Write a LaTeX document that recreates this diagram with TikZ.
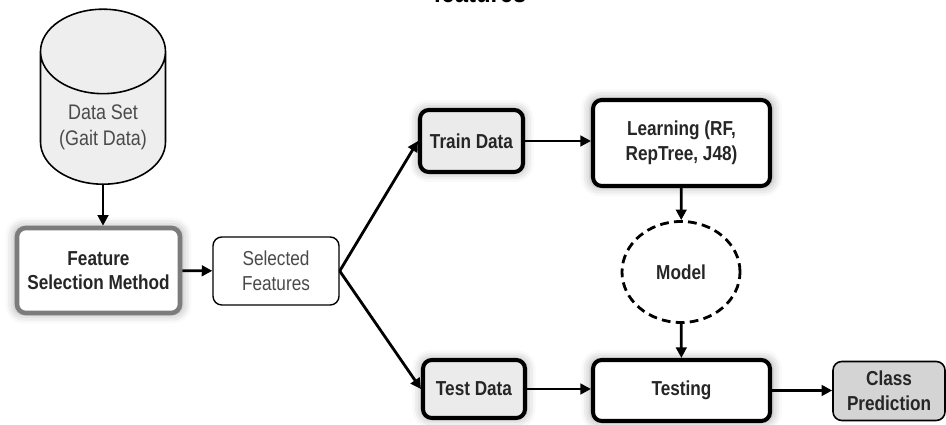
\documentclass[tikz,border=0pt]{standalone}
\usepackage{fontspec}
\setmainfont{Liberation Sans}[FakeStretch=0.85]
\usetikzlibrary{arrows.meta}
\usetikzlibrary{shapes}
\usetikzlibrary{shadows.blur}
\definecolor{hgrau}{HTML}{eeeeee}
\definecolor{mgrau}{HTML}{7c7c7c}
\definecolor{kgrau}{HTML}{d4d4d4}
\definecolor{tgrau}{HTML}{4a4a4a}

\begin{document}
\begin{tikzpicture}[>={Triangle[black,length=6pt,width=6pt]},every edge/.style={draw=black,line width=1.6pt},
        box/.style={draw, rectangle, rounded corners=5pt, align=center, inner sep=0pt, font=\fontsize{11.5}{14}\selectfont},
        dickbox/.style={box, line width=2.3pt, font=\fontsize{11.5}{14}\selectfont\bfseries, text=black!85,
                blur shadow={shadow xshift=0pt, shadow yshift=0pt, shadow blur radius=5pt, shadow opacity=35, shadow scale=1.03}}]
        \clip (0, 0) rectangle (18.92, 8.5);

        \node[font=\fontsize{16}{18}\selectfont\bfseries, anchor=base] (U) at (9.6, 8.45) {features};

        \node[draw, cylinder, shape border rotate=90, aspect=0.85, fill=hgrau, line width=0.9pt, minimum width=2.5cm, minimum height=3.5cm, align=center, text=tgrau, font=\fontsize{12}{14.5}\selectfont, anchor=south] (D) at (2.06, 4.8) {Data Set\\(Gait Data)};

        \node[dickbox, draw=mgrau, line width=2.6pt, fill=white, minimum width=3.26cm, minimum height=1.7cm] (F) at (1.97, 3.09) {Feature\\Selection Method};

        \node[box, line width=0.8pt, fill=white, text=tgrau, minimum width=2.52cm, minimum height=1.36cm] (SE) at (5.52, 3.08) {Selected\\Features};

        \node[dickbox, fill=black!8, minimum width=2.06cm, minimum height=1.24cm] (TR) at (9.43, 5.68) {Train Data};

        \node[dickbox, fill=black!8, minimum width=2.04cm, minimum height=1.16cm] (TE) at (9.48, 0.72) {Test Data};

        \node[dickbox, fill=white, minimum width=3.54cm, minimum height=1.72cm] (LE) at (13.63, 5.64) {Learning (RF,\\RepTree, J48)};

        \node[dickbox, fill=white, minimum width=3.54cm, minimum height=1.22cm] (TS) at (13.63, 0.69) {Testing};

        \node[draw, ellipse, dash pattern=on 5pt off 3pt, line width=1.6pt, inner sep=0pt, minimum width=2.36cm, minimum height=2.02cm, font=\fontsize{11.5}{14}\selectfont\bfseries, text=black!85] (MO) at (13.62, 3.06) {Model};

        \node[box, line width=0.9pt, fill=kgrau, text=black!85, font=\fontsize{11.5}{14}\selectfont\bfseries, minimum width=2.24cm, minimum height=1.18cm] (CP) at (17.78, 0.68) {Class\\Prediction};


        \path [->](D.south) edge (D.south |- F.north);
        \path [->](F) edge (SE);

        \path [->](SE.east) edge (TR.west);
        \path [->](SE.east) edge (TE.west);

        \path [->](TR) edge (TR -| LE.west);
        \path [->](TE) edge (TE -| TS.west);
        \path [->](LE) edge (MO);
        \path [->](MO) edge (TS);
        \path [->](TS) edge (TS -| CP.west);

    \end{tikzpicture}
\end{document}
